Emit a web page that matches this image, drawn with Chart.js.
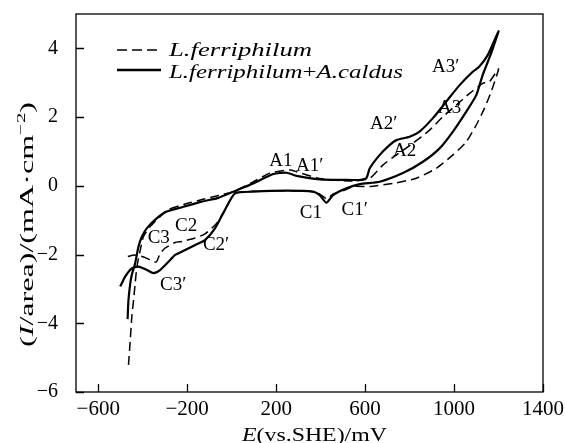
<!DOCTYPE html>
<html>
<head>
<meta charset="utf-8">
<script src="https://cdn.jsdelivr.net/npm/chart.js@4.4.1/dist/chart.umd.min.js"></script>
<style>
html, body { margin: 0; padding: 0; background: #fff; }
canvas { display: block; }
</style>
</head>
<body>
<canvas id="cv" width="565" height="443"></canvas>
<script>
// E in mV (vs. SHE), I/area in mA/cm2
const dashE = [-464, -456, -449, -441, -434, -426, -411, -397, -367, -322, -284, -209, -133, -60, 7, 96, 172, 262, 292, 396, 545, 621, 681, 741, 815, 890, 950, 1010, 1070, 1129, 1159, 1200,
  1167, 1137, 1100, 1055, 995, 920, 830, 725, 621, 546, 516, 455, 428, 396, 351, 247, 97, 15, -30, -70, -120, -165, -223, -254, -299, -322, -340, -381, -411, -441, -479];
const dashI = [-5.21, -4.49, -3.81, -3.32, -2.84, -2.35, -1.87, -1.48, -1.19, -0.90, -0.69, -0.53, -0.40, -0.28, -0.17, 0.11, 0.37, 0.46, 0.41, 0.21, 0.14, 0.22, 0.61, 0.90, 1.24, 1.62, 2.01, 2.35, 2.69, 2.98, 3.03, 3.40,
  2.74, 2.26, 1.77, 1.28, 0.90, 0.51, 0.22, 0.07, -0.02, -0.02, -0.11, -0.24, -0.38, -0.24, -0.16, -0.14, -0.16, -0.22, -0.70, -1.11, -1.40, -1.52, -1.62, -1.65, -1.81, -1.98, -2.22, -2.11, -2.04, -2.01, -2.08];

const solidE = [-468, -464, -456, -449, -434, -419, -404, -381, -336, -292, -217, -135, -60, 7, 97, 187, 247, 292, 396, 546, 576, 606, 621, 666, 711, 741, 800, 845, 905, 965, 1025, 1084, 1114, 1152, 1200,
  1167, 1129, 1100, 1055, 995, 935, 860, 770, 666, 576, 516, 456, 426, 396, 366, 247, 97, 15, -30, -75, -120, -164, -209, -254, -284, -322, -352, -381, -419, -449, -479, -501];
const solidI = [-3.88, -3.32, -2.84, -2.59, -2.25, -1.77, -1.48, -1.23, -0.94, -0.75, -0.61, -0.46, -0.35, -0.17, 0.07, 0.345, 0.38, 0.29, 0.19, 0.17, 0.17, 0.23, 0.51, 0.90, 1.19, 1.33, 1.43, 1.58, 1.97, 2.45, 2.93, 3.32, 3.47, 3.81, 4.50,
  3.86, 3.23, 2.64, 2.16, 1.58, 1.09, 0.70, 0.37, 0.12, 0.05, -0.07, -0.27, -0.49, -0.27, -0.17, -0.14, -0.17, -0.22, -0.70, -1.24, -1.58, -1.72, -1.87, -2.01, -2.21, -2.45, -2.54, -2.45, -2.35, -2.40, -2.64, -2.93];

const xTicks = [-600, -200, 200, 600, 1000, 1400];
const yTicks = [-6, -4, -2, 0, 2, 4];

const peakNames = ['A1', 'A1\u2032', 'A2\u2032', 'A2', 'A3\u2032', 'A3', 'C1', 'C1\u2032', 'C2', 'C3', 'C2\u2032', 'C3\u2032'];
const peakE = [221, 351, 684, 778, 962, 980, 356, 553, -205, -328, -70, -263];
const peakI = [0.72, 0.58, 1.80, 1.01, 3.46, 2.27, -0.79, -0.70, -1.17, -1.53, -1.72, -2.88];

const seriesNames = ['L.ferriphilum', 'L.ferriphilum+A.caldus'];

const SERIF = '"Liberation Serif", "Times New Roman", serif';
Chart.defaults.font.family = SERIF;
Chart.defaults.color = '#000';

const fmt = v => (v < 0 ? '\u2212' + Math.abs(v) : String(v));
const pts = (xs, ys) => xs.map((x, i) => ({ x: x, y: ys[i] }));

// text stretched to a target width (the original lettering is wide)
function wideText(ctx, parts, x0, y0, target, size) {
  let w = 0;
  parts.forEach(p => {
    ctx.font = (p.it ? 'italic ' : '') + (p.sup ? size * 0.65 : size) + 'px ' + SERIF;
    w += ctx.measureText(p.t).width;
  });
  const sx = target / w;
  ctx.save();
  ctx.translate(x0, y0);
  ctx.scale(sx, 1);
  let xx = 0;
  parts.forEach(p => {
    ctx.font = (p.it ? 'italic ' : '') + (p.sup ? size * 0.65 : size) + 'px ' + SERIF;
    ctx.fillText(p.t, xx, p.sup ? -size * 0.42 : 0);
    xx += ctx.measureText(p.t).width;
  });
  ctx.restore();
}

const decor = {
  id: 'decor',
  afterDraw(chart) {
    const ctx = chart.ctx, a = chart.chartArea, xs = chart.scales.x, ys = chart.scales.y;
    ctx.save();
    ctx.strokeStyle = '#000';
    ctx.fillStyle = '#000';
    ctx.lineWidth = 1.3;
    ctx.strokeRect(a.left, a.top, a.right - a.left, a.bottom - a.top);
    ctx.beginPath();
    xTicks.forEach(v => {
      const p = Math.round(xs.getPixelForValue(v)) + 0.5;
      ctx.moveTo(p, a.bottom); ctx.lineTo(p, a.bottom - 8);
    });
    yTicks.forEach(v => {
      const p = Math.round(ys.getPixelForValue(v)) + 0.5;
      ctx.moveTo(a.left, p); ctx.lineTo(a.left + 8, p);
    });
    ctx.stroke();

    // peak labels
    ctx.font = '19px ' + SERIF;
    ctx.textAlign = 'center';
    ctx.textBaseline = 'middle';
    peakNames.forEach((n, i) => {
      ctx.fillText(n, xs.getPixelForValue(peakE[i]), ys.getPixelForValue(peakI[i]));
    });

    // legend
    ctx.textAlign = 'left';
    ctx.textBaseline = 'alphabetic';
    ctx.lineWidth = 1.5;
    ctx.setLineDash([10, 5]);
    ctx.beginPath(); ctx.moveTo(117, 50); ctx.lineTo(161, 50); ctx.stroke();
    ctx.setLineDash([]);
    ctx.lineWidth = 2.5;
    ctx.beginPath(); ctx.moveTo(117, 70); ctx.lineTo(161, 70); ctx.stroke();
    wideText(ctx, [{ t: seriesNames[0], it: true }], 169, 56, 143, 19);
    wideText(ctx, [{ t: 'L.ferriphilum', it: true }, { t: '+' }, { t: 'A.caldus', it: true }], 169, 78, 234, 19);

    // axis titles
    wideText(ctx, [{ t: 'E', it: true }, { t: '(vs.SHE)/mV' }], 242, 441, 145, 19);
    ctx.save();
    ctx.translate(33, 347);
    ctx.rotate(-Math.PI / 2);
    wideText(ctx, [{ t: '(' }, { t: 'I', it: true }, { t: '/area)/(mA\u00b7cm' }, { t: '\u22122', sup: true }, { t: ')' }], 0, 0, 245, 19);
    ctx.restore();
    ctx.restore();
  }
};

new Chart(document.getElementById('cv'), {
  type: 'scatter',
  data: {
    datasets: [
      {
        label: seriesNames[0],
        data: pts(dashE, dashI),
        showLine: true,
        borderColor: '#000',
        borderWidth: 1.5,
        borderDash: [9, 5],
        pointRadius: 0,
        tension: 0.2
      },
      {
        label: seriesNames[1],
        data: pts(solidE, solidI),
        showLine: true,
        borderColor: '#000',
        borderWidth: 2.2,
        pointRadius: 0,
        tension: 0.2
      }
    ]
  },
  options: {
    responsive: false,
    animation: false,
    devicePixelRatio: 1,
    layout: { padding: { left: 0, right: 22, top: 14, bottom: 0 } },
    plugins: { legend: { display: false }, tooltip: { enabled: false } },
    scales: {
      x: {
        type: 'linear',
        min: -700,
        max: 1400,
        afterBuildTicks: s => { s.ticks = xTicks.map(v => ({ value: v })); },
        afterFit: s => { s.height = 51; s.paddingLeft = 0; s.paddingRight = 0; },
        grid: { display: false, drawTicks: false },
        border: { display: false },
        ticks: { padding: 5, color: '#000', font: { size: 21 }, maxRotation: 0, autoSkip: false, callback: v => fmt(v) }
      },
      y: {
        type: 'linear',
        min: -6,
        max: 5,
        afterBuildTicks: s => { s.ticks = yTicks.map(v => ({ value: v })); },
        afterFit: s => { s.width = 76; s.paddingTop = 0; s.paddingBottom = 0; },
        grid: { display: false, drawTicks: false },
        border: { display: false },
        ticks: { padding: 18, color: '#000', font: { size: 20 }, autoSkip: false, callback: v => fmt(v) }
      }
    }
  },
  plugins: [decor]
});
</script>
</body>
</html>
